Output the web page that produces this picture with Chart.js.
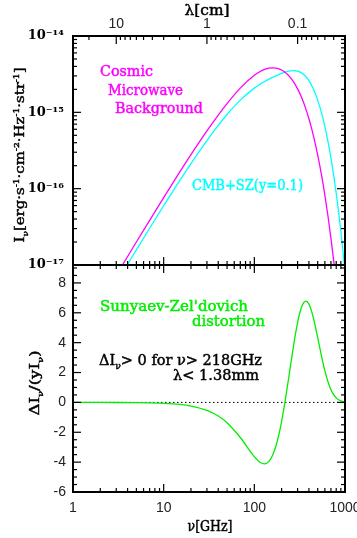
<!DOCTYPE html>
<html>
<head>
<meta charset="utf-8">
<script src="https://cdn.jsdelivr.net/npm/chart.js@4.4.0/dist/chart.umd.min.js"></script>
<style>
    html, body { margin: 0; padding: 0; background: #fff; }
    #wrap { position: relative; width: 357px; height: 538px; overflow: hidden; }
    canvas { position: absolute; left: 0; }
    #top { top: 0; }
    #bottom { top: 250px; }
</style>
</head>
<body>
<div id="wrap">
    <canvas id="top" width="357" height="280"></canvas>
    <canvas id="bottom" width="357" height="288"></canvas>
</div>
<script>
// frequency grid (GHz) for the spectra
const nuTop = [3, 4, 5, 7, 10, 15, 20, 30, 40, 50, 70, 100, 115, 130, 145, 160, 180, 200, 225, 250,
    275, 300, 325, 350, 375, 400, 425, 450, 500, 550, 600, 650, 700, 750, 800, 850, 900, 950, 1000];

// I_nu [erg s^-1 cm^-2 Hz^-1 str^-1], magenta curve
const cmbIntensity = [7.33e-18, 1.291e-17, 2.000e-17, 3.850e-17, 7.647e-17, 1.644e-16, 2.790e-16, 5.711e-16,
    9.216e-16, 1.3034e-15, 2.0781e-15, 3.0556e-15, 3.4045e-15, 3.6476e-15, 3.7875e-15, 3.8322e-15,
    3.7655e-15, 3.5852e-15, 3.2515e-15, 2.8520e-15, 2.4334e-15, 2.0283e-15, 1.6574e-15, 1.3312e-15,
    1.0534e-15, 8.228e-16, 6.352e-16, 4.854e-16, 2.760e-16, 1.5226e-16, 8.192e-17, 4.319e-17,
    2.2357e-17, 1.1402e-17, 5.736e-18, 2.852e-18, 1.404e-18, 6.84e-19, 3.31e-19];

// CMB + SZ (y = 0.1), cyan curve
const szIntensity = [5.83e-18, 1.024e-17, 1.582e-17, 3.033e-17, 5.984e-17, 1.272e-16, 2.135e-16, 4.275e-16,
    6.754e-16, 9.363e-16, 1.4444e-15, 2.0757e-15, 2.3250e-15, 2.5377e-15, 2.7224e-15, 2.8857e-15,
    3.0777e-15, 3.2424e-15, 3.4039e-15, 3.5028e-15, 3.5262e-15, 3.4685e-15, 3.3335e-15, 3.1319e-15,
    2.8801e-15, 2.5960e-15, 2.2969e-15, 1.9980e-15, 1.4446e-15, 9.911e-16, 6.505e-16, 4.114e-16,
    2.519e-16, 1.5008e-16, 8.727e-17, 4.969e-17, 2.777e-17, 1.526e-17, 8.263e-18];

// bottom panel: Delta I / (y I)
const nuBottom = [1, 2, 3, 5, 7, 10, 15, 20, 30, 40, 50, 70, 100, 115, 130, 145, 160, 180, 200, 225, 250,
    275, 300, 325, 350, 375, 400, 425, 450, 500, 550, 600, 650, 700, 750, 800, 850, 900, 950, 1000];
const szDistortion = [-0.0006, -0.0025, -0.0056, -0.0155, -0.0303, -0.0617, -0.138, -0.243, -0.533, -0.913,
    -1.361, -2.350, -3.635, -4.004, -4.117, -3.950, -3.511, -2.551, -1.271, 0.566, 2.414,
    4.053, 5.342, 6.217, 6.679, 6.776, 6.577, 6.164, 5.610, 4.335, 3.111, 2.109, 1.366,
    0.851, 0.514, 0.302, 0.174, 0.098, 0.054, 0.029];

// tick labels
const nuTicks = [1, 10, 100, 1000];
const nuTickLabels = ['1', '10', '100', '1000'];
const lamTicks = [10, 1, 0.1];
const lamTickLabels = ['10', '1', '0.1'];
const intensityTicks = [1e-17, 1e-16, 1e-15, 1e-14];
const intensityTickLabels = ['10⁻¹⁷', '10⁻¹⁶', '10⁻¹⁵', '10⁻¹⁴'];
const distTicks = [-6, -4, -2, 0, 2, 4, 6, 8];
const distTickLabels = ['-6', '-4', '-2', '0', '2', '4', '6', '8'];

const SERIF = '"DejaVu Serif", serif';
const SANS = '"Liberation Sans", Arial, sans-serif';

function logTicks(lo, hi) {
    const out = [];
    for (let d = Math.floor(Math.log10(lo)) - 1; d <= Math.ceil(Math.log10(hi)); d++) {
        for (let m = 1; m <= 9; m++) {
            const v = m * Math.pow(10, d);
            if (v >= lo * 0.999 && v <= hi * 1.001) out.push({ v: v, major: m === 1 });
        }
    }
    return out;
}

function linTicks(lo, hi, step, majorStep) {
    const out = [];
    for (let v = Math.ceil(lo / step) * step; v <= hi + 1e-9; v += step) {
        out.push({ v: v, major: Math.abs(v / majorStep - Math.round(v / majorStep)) < 1e-6 });
    }
    return out;
}

// inward ticks on all sides + bold box
const framePlugin = {
    id: 'frame',
    afterDraw(chart, args, opts) {
        const ctx = chart.ctx;
        const a = chart.chartArea;
        ctx.save();
        ctx.strokeStyle = '#000';
        ctx.lineWidth = 1.2;
        opts.edges.forEach(e => {
            const scale = chart.scales[e.scale];
            e.ticks.forEach(t => {
                const p = scale.getPixelForValue(t.v);
                const len = t.major ? 8 : 4;
                ctx.beginPath();
                if (e.side === 'left') { ctx.moveTo(a.left, p); ctx.lineTo(a.left + len, p); }
                if (e.side === 'right') { ctx.moveTo(a.right, p); ctx.lineTo(a.right - len, p); }
                if (e.side === 'top') { ctx.moveTo(p, a.top); ctx.lineTo(p, a.top + len); }
                if (e.side === 'bottom') { ctx.moveTo(p, a.bottom); ctx.lineTo(p, a.bottom - len); }
                ctx.stroke();
            });
        });
        ctx.lineWidth = 2;
        ctx.strokeRect(a.left, a.top, a.right - a.left, a.bottom - a.top);
        ctx.restore();
    }
};

function drawRich(ctx, n) {
    const base = n.size || 14;
    const fontOf = p => (p.sub || p.sup ? Math.round(base * 0.62) : base) + 'px ' + (n.family || SERIF);
    let total = 0;
    n.parts.forEach(p => {
        ctx.font = fontOf(p);
        p.w = ctx.measureText(p.t).width;
        total += p.w;
    });
    const sx = n.width ? n.width / total : 1;
    ctx.save();
    ctx.translate(n.x, n.y);
    if (n.angle) ctx.rotate(n.angle);
    ctx.scale(sx, 1);
    ctx.fillStyle = n.color || '#000';
    ctx.strokeStyle = n.color || '#000';
    ctx.lineWidth = 0.45;
    ctx.textBaseline = 'alphabetic';
    ctx.textAlign = 'left';
    let cx = n.align === 'center' ? -total / 2 : 0;
    n.parts.forEach(p => {
        ctx.font = fontOf(p);
        const dy = p.sub ? base * 0.28 : (p.sup ? -base * 0.42 : 0);
        ctx.fillText(p.t, cx, dy);
        ctx.strokeText(p.t, cx, dy);
        cx += p.w;
    });
    ctx.restore();
}

const notesPlugin = {
    id: 'notes',
    afterDraw(chart, args, opts) {
        opts.items.forEach(n => drawRich(chart.ctx, n));
    }
};

function fixBox(w, h) {
    return function (s) {
        if (w !== null) s.width = w;
        if (h !== null) s.height = h;
        s.paddingLeft = 0;
        s.paddingRight = 0;
        s.paddingTop = 0;
        s.paddingBottom = 0;
    };
}

const hiddenGrid = { display: false, drawTicks: false };

const topChart = new Chart(document.getElementById('top'), {
    type: 'line',
    data: {
        datasets: [{
            label: 'Cosmic Microwave Background',
            data: nuTop.map((n, i) => ({ x: n, y: cmbIntensity[i] })),
            borderColor: '#ff00ff',
            borderWidth: 1.3,
            pointRadius: 0,
            cubicInterpolationMode: 'monotone',
            xAxisID: 'x',
            yAxisID: 'y'
        }, {
            label: 'CMB+SZ(y=0.1)',
            data: nuTop.map((n, i) => ({ x: n, y: szIntensity[i] })),
            borderColor: '#00ffff',
            borderWidth: 1.3,
            pointRadius: 0,
            cubicInterpolationMode: 'monotone',
            xAxisID: 'x',
            yAxisID: 'y'
        }]
    },
    plugins: [framePlugin, notesPlugin],
    options: {
        responsive: false,
        animation: false,
        events: [],
        layout: { padding: { right: 12 } },
        plugins: {
            legend: { display: false },
            tooltip: { enabled: false },
            frame: {
                edges: [
                    { scale: 'y', side: 'left', ticks: logTicks(1e-17, 1e-14) },
                    { scale: 'y', side: 'right', ticks: logTicks(1e-17, 1e-14) },
                    { scale: 'lam', side: 'top', ticks: logTicks(0.03, 30) },
                    { scale: 'x', side: 'bottom', ticks: logTicks(1, 1000) }
                ]
            },
            notes: {
                items: [
                    { parts: [{ t: 'λ[cm]' }], x: 207, y: 15, align: 'center', width: 45 },
                    { parts: [{ t: 'Cosmic' }], x: 100, y: 76, width: 53, color: '#ff00ff' },
                    { parts: [{ t: 'Microwave' }], x: 108, y: 95, width: 75, color: '#ff00ff' },
                    { parts: [{ t: 'Background' }], x: 115, y: 113, width: 88, color: '#ff00ff' },
                    { parts: [{ t: 'CMB+SZ(y=0.1)' }], x: 192, y: 190, width: 111, color: '#00ffff' },
                    {
                        parts: [{ t: 'I' }, { t: 'ν', sub: true }, { t: '[erg·s' }, { t: '-1', sup: true },
                            { t: '·cm' }, { t: '-2', sup: true }, { t: '·Hz' }, { t: '-1', sup: true },
                            { t: '·str' }, { t: '-1', sup: true }, { t: ']' }],
                        x: 24, y: 155, align: 'center', width: 175, angle: -Math.PI / 2, size: 13
                    }
                ]
            }
        },
        scales: {
            x: {
                type: 'logarithmic', position: 'bottom', min: 1, max: 1000,
                grid: hiddenGrid, border: { display: false },
                ticks: { display: false },
                afterFit: fixBox(null, 15)
            },
            lam: {
                type: 'logarithmic', position: 'top', reverse: true, min: 0.03, max: 30,
                grid: hiddenGrid, border: { display: false },
                ticks: {
                    font: { family: SANS, size: 14 }, color: '#222', padding: 3,
                    maxRotation: 0, autoSkip: false,
                    callback: (v, i) => lamTickLabels[i]
                },
                afterBuildTicks: s => { s.ticks = lamTicks.map(v => ({ value: v })); },
                afterFit: fixBox(null, 36)
            },
            y: {
                type: 'logarithmic', position: 'left', min: 1e-17, max: 1e-14,
                grid: hiddenGrid, border: { display: false },
                ticks: {
                    font: { family: SERIF, size: 13, weight: 'bold' }, color: '#000', padding: 9,
                    autoSkip: false,
                    callback: (v, i) => intensityTickLabels[i]
                },
                afterBuildTicks: s => { s.ticks = intensityTicks.map(v => ({ value: v })); },
                afterFit: fixBox(73, null)
            }
        }
    }
});

const bottomChart = new Chart(document.getElementById('bottom'), {
    type: 'line',
    data: {
        datasets: [{
            label: 'Sunyaev-Zel\'dovich distortion',
            data: nuBottom.map((n, i) => ({ x: n, y: szDistortion[i] })),
            borderColor: '#00ee00',
            borderWidth: 1.3,
            pointRadius: 0,
            cubicInterpolationMode: 'monotone'
        }, {
            label: 'zero',
            data: [{ x: 1, y: 0 }, { x: 1000, y: 0 }],
            borderColor: '#000',
            borderWidth: 1,
            borderDash: [1.5, 2.5],
            pointRadius: 0
        }]
    },
    plugins: [framePlugin, notesPlugin],
    options: {
        responsive: false,
        animation: false,
        events: [],
        layout: { padding: { top: 15, right: 12 } },
        plugins: {
            legend: { display: false },
            tooltip: { enabled: false },
            frame: {
                edges: [
                    { scale: 'y', side: 'left', ticks: linTicks(-6, 9.2, 0.5, 2) },
                    { scale: 'y', side: 'right', ticks: linTicks(-6, 9.2, 0.5, 2) },
                    { scale: 'x', side: 'top', ticks: logTicks(1, 1000) },
                    { scale: 'x', side: 'bottom', ticks: logTicks(1, 1000) }
                ]
            },
            notes: {
                items: [
                    { parts: [{ t: 'Sunyaev-Zel\'dovich' }], x: 100, y: 61, width: 148, color: '#00ee00' },
                    { parts: [{ t: 'distortion' }], x: 192, y: 76, width: 73, color: '#00ee00' },
                    {
                        parts: [{ t: 'ΔI' }, { t: 'ν', sub: true }, { t: '> 0 for ν> 218GHz' }],
                        x: 99, y: 115, width: 163
                    },
                    { parts: [{ t: 'λ< 1.38mm' }], x: 173, y: 130, width: 86 },
                    { parts: [{ t: 'ν[GHz]' }], x: 210, y: 281, align: 'center', width: 45 },
                    {
                        parts: [{ t: 'ΔI' }, { t: 'ν', sub: true }, { t: '/(yI' }, { t: 'ν', sub: true }, { t: ')' }],
                        x: 39, y: 133, align: 'center', width: 65, angle: -Math.PI / 2, size: 13
                    }
                ]
            }
        },
        scales: {
            x: {
                type: 'logarithmic', position: 'bottom', min: 1, max: 1000,
                grid: hiddenGrid, border: { display: false },
                ticks: {
                    font: { family: SANS, size: 14 }, color: '#222', padding: 8,
                    maxRotation: 0, autoSkip: false,
                    callback: (v, i) => nuTickLabels[i]
                },
                afterBuildTicks: s => { s.ticks = nuTicks.map(v => ({ value: v })); },
                afterFit: fixBox(null, 46)
            },
            y: {
                type: 'linear', position: 'left', min: -6, max: 9.2,
                grid: hiddenGrid, border: { display: false },
                ticks: {
                    font: { family: SANS, size: 14 }, color: '#222', padding: 7,
                    autoSkip: false,
                    callback: (v, i) => distTickLabels[i]
                },
                afterBuildTicks: s => { s.ticks = distTicks.map(v => ({ value: v })); },
                afterFit: fixBox(73, null)
            }
        }
    }
});
</script>
</body>
</html>
